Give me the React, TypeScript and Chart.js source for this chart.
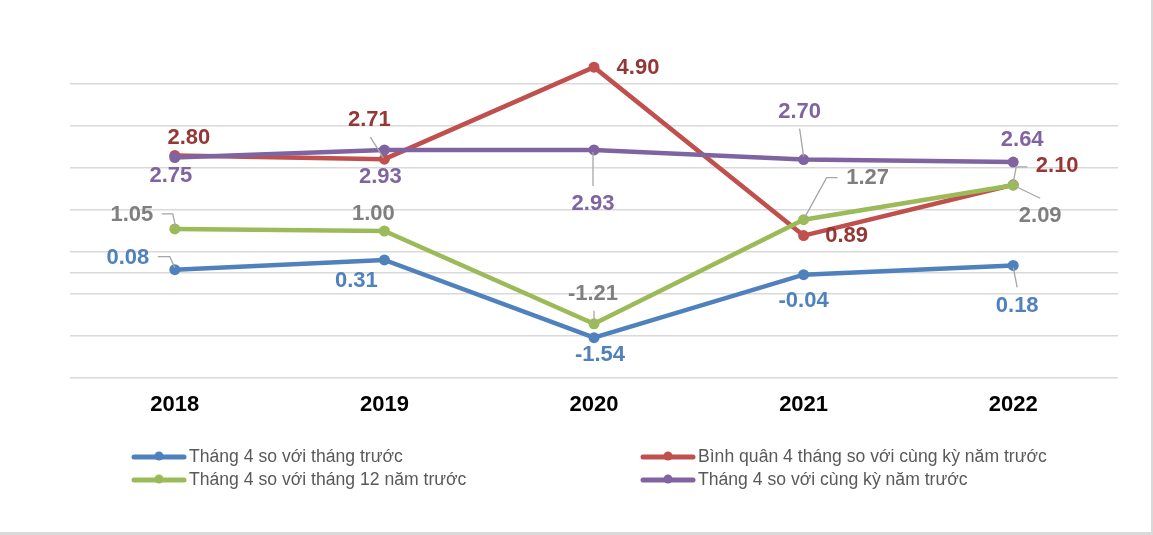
import React, { useEffect, useRef } from 'react';
import { Chart, registerables } from 'chart.js';

Chart.register(...registerables);

// ---------- data ----------
const categories = ['2018', '2019', '2020', '2021', '2022'];
const seriesNames = [
  'Tháng 4 so với tháng trước',
  'Bình quân 4 tháng so với cùng kỳ năm trước',
  'Tháng 4 so với tháng 12 năm trước',
  'Tháng 4 so với cùng kỳ năm trước',
];
const monthOnMonth = [0.08, 0.31, -1.54, -0.04, 0.18];
const fourMonthAvgYoY = [2.8, 2.71, 4.9, 0.89, 2.1];
const aprilVsDecember = [1.05, 1.0, -1.21, 1.27, 2.09];
const aprilYoY = [2.75, 2.93, 2.93, 2.7, 2.64];
const yGridValues = [-2.5, -1.5, -0.5, 0, 0.5, 1.5, 2.5, 3.5, 4.5];
const yMin = -2.5;
const yMax = 5.5;

// ---------- styles ----------
const FONT = '"Liberation Sans", Arial, sans-serif';
const lineColors = ['#4F81BD', '#C0504D', '#9BBB59', '#8064A2'];
const labelColors = ['#4F81BD', '#953735', '#7F7F7F', '#8064A2'];
const drawOrder = [3, 2, 1, 0];

type LabelPos = { dx: number; dy: number; leader?: number[][] };
// label offsets relative to each point's pixel position
const labelLayout: LabelPos[][] = [
  [
    { dx: -47, dy: -12, leader: [[-17, -13], [-5, -13], [0, -2]] },
    { dx: -28, dy: 21 },
    { dx: 6, dy: 17 },
    { dx: 0, dy: 26 },
    { dx: 4, dy: 40, leader: [[0, 2], [4, 22]] },
  ],
  [
    { dx: 14, dy: -17 },
    { dx: -15, dy: -39, leader: [[-14, -22], [-1, -1]] },
    { dx: 44, dy: 1 },
    { dx: 43, dy: 0 },
    { dx: 44, dy: -19, leader: [[14, -18], [3, -18], [0, -2]] },
  ],
  [
    { dx: -43, dy: -14, leader: [[-13, -15], [-2, -15], [1, -1]] },
    { dx: -11, dy: -17 },
    { dx: -1, dy: -30, leader: [[0, -13], [0, -1]] },
    { dx: 64, dy: -42, leader: [[34, -42], [23, -42], [1, -2]] },
    { dx: 27, dy: 31, leader: [[0, 0], [27, 13]] },
  ],
  [
    { dx: -4, dy: 18 },
    { dx: -4, dy: 27 },
    { dx: -1, dy: 54, leader: [[-1, 2], [-1, 36]] },
    { dx: -4, dy: -48, leader: [[-4, -31], [0, -3]] },
    { dx: 9, dy: -22 },
  ],
];

const legendSlots = [
  { x: 132, y: 457 },
  { x: 641, y: 457 },
  { x: 132, y: 480 },
  { x: 641, y: 480 },
];

const dataLabelPlugin = {
  id: 'customDataLabels',
  afterDatasetsDraw(chart: any) {
    const ctx = chart.ctx as CanvasRenderingContext2D;
    ctx.save();
    chart.data.datasets.forEach((ds: any, di: number) => {
      const meta = chart.getDatasetMeta(di);
      meta.data.forEach((pt: any, i: number) => {
        const lay = labelLayout[di][i];
        if (lay.leader) {
          ctx.beginPath();
          ctx.strokeStyle = '#A6A6A6';
          ctx.lineWidth = 1.3;
          lay.leader.forEach((p, k) => {
            const x = pt.x + p[0];
            const y = pt.y + p[1];
            if (k === 0) ctx.moveTo(x, y);
            else ctx.lineTo(x, y);
          });
          ctx.stroke();
        }
      });
    });
    chart.data.datasets.forEach((ds: any, di: number) => {
      const meta = chart.getDatasetMeta(di);
      meta.data.forEach((pt: any, i: number) => {
        const lay = labelLayout[di][i];
        ctx.font = `bold 22px ${FONT}`;
        ctx.fillStyle = labelColors[di];
        ctx.textAlign = 'center';
        ctx.textBaseline = 'middle';
        ctx.fillText(Number(ds.data[i]).toFixed(2), pt.x + lay.dx, pt.y + lay.dy);
      });
    });
    ctx.restore();
  },
};

const legendPlugin = {
  id: 'customLegend',
  afterDraw(chart: any) {
    const ctx = chart.ctx as CanvasRenderingContext2D;
    ctx.save();
    seriesNames.forEach((name, i) => {
      const s = legendSlots[i];
      ctx.strokeStyle = lineColors[i];
      ctx.lineWidth = 5;
      ctx.lineCap = 'round';
      ctx.beginPath();
      ctx.moveTo(s.x + 2, s.y);
      ctx.lineTo(s.x + 52, s.y);
      ctx.stroke();
      ctx.fillStyle = lineColors[i];
      ctx.beginPath();
      ctx.arc(s.x + 27, s.y - 1, 4.5, 0, Math.PI * 2);
      ctx.fill();
      ctx.font = `17.6px ${FONT}`;
      ctx.fillStyle = '#595959';
      ctx.textAlign = 'left';
      ctx.textBaseline = 'middle';
      ctx.fillText(name, s.x + 57, s.y);
    });
    ctx.restore();
  },
};

export default function App() {
  const ref = useRef<HTMLCanvasElement>(null);
  useEffect(() => {
    const canvas = ref.current;
    if (!canvas) return;
    const series = [monthOnMonth, fourMonthAvgYoY, aprilVsDecember, aprilYoY];
    const chart = new Chart(canvas, {
      type: 'line',
      data: {
        labels: categories,
        datasets: series.map((d, i) => ({
          label: seriesNames[i],
          data: d,
          borderColor: lineColors[i],
          backgroundColor: lineColors[i],
          borderWidth: 4.5,
          pointRadius: 5.5,
          pointBorderWidth: 0,
          pointBackgroundColor: lineColors[i],
          tension: 0,
          fill: false,
          order: drawOrder[i],
        })),
      },
      options: {
        responsive: false,
        animation: false,
        devicePixelRatio: 1,
        events: [],
        layout: { padding: { left: 70, right: 35, top: 42, bottom: 117 } },
        plugins: {
          legend: { display: false },
          tooltip: { enabled: false },
        },
        scales: {
          x: {
            offset: true,
            grid: { display: false, drawTicks: false },
            border: { display: false },
            ticks: {
              color: '#000000',
              font: { family: FONT, size: 22, weight: 'bold' },
              padding: 14,
            },
            afterFit: (s: any) => {
              s.height = 40;
            },
          },
          y: {
            min: yMin,
            max: yMax,
            grid: { color: '#D9D9D9', lineWidth: 1.5, drawTicks: false },
            border: { display: false },
            ticks: { display: false },
            afterBuildTicks: (s: any) => {
              s.ticks = yGridValues.map((v) => ({ value: v }));
            },
            afterFit: (s: any) => {
              s.width = 0;
            },
          },
        },
      } as any,
      plugins: [dataLabelPlugin, legendPlugin],
    });
    return () => chart.destroy();
  }, []);

  return (
    <div
      style={{
        position: 'fixed',
        left: 0,
        top: 0,
        width: 1153,
        height: 535,
        background: '#ffffff',
        overflow: 'hidden',
      }}
    >
      <canvas ref={ref} width={1153} height={535} style={{ display: 'block', width: 1153, height: 535 }} />
      <div style={{ position: 'absolute', left: 1151, top: 0, width: 2, height: 535, background: '#D9D9D9' }} />
      <div style={{ position: 'absolute', left: 0, top: 532, width: 1153, height: 3, background: '#D9D9D9' }} />
    </div>
  );
}
